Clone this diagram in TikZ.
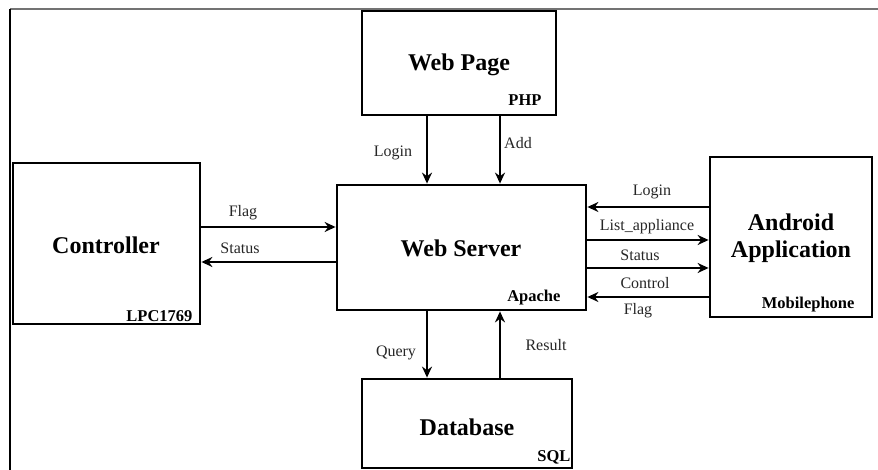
\documentclass[tikz,border=0pt]{standalone}
\usepackage{fontspec}
\setmainfont{Liberation Serif}
\usetikzlibrary{arrows.meta}
\begin{document}
\begin{tikzpicture}[x=1pt,y=-1pt,
  box/.style={draw=black,line width=2.8pt,inner sep=0pt,fill=white},
  title/.style={font=\fontsize{24}{27}\selectfont\bfseries,align=center},
  tag/.style={font=\fontsize{16.5}{19}\selectfont\bfseries,anchor=east},
  lbl/.style={font=\fontsize{16}{19}\selectfont,text=black!85},
  arr/.style={line width=2.5pt,-{Stealth[length=11pt,width=10pt]}}]
\useasboundingbox (0,0) rectangle (878,470);
% page frame
\draw[line width=2pt,black!55] (10,9) -- (878,9);
\draw[line width=1.6pt] (10,9) -- (10,470);

% blocks
\node[box,minimum width=194,minimum height=104] (wp) at (459,63) {};
\node[title] (wpt) at (459,65) {Web Page};
\node[tag] (wpp) at (545,100) {PHP};

\node[box,minimum width=249,minimum height=125] (ws) at (461.5,247.5) {};
\node[title] (wst) at (461,248) {Web Server};
\node[tag] (wsa) at (564,298) {Apache};

\node[box,minimum width=187,minimum height=161] (ctl) at (106.5,243.5) {};
\node[title] (ctlt) at (106,245) {Controller};
\node[tag] (ctla) at (196,316) {LPC1769};

\node[box,minimum width=162,minimum height=160] (and) at (791,237) {};
\node[title] (andt) at (791,238) {Android\\Application};
\node[tag] (anda) at (858,305) {Mobilephone};

\node[box,minimum width=210,minimum height=89] (db) at (467,423.5) {};
\node[title] (dbt) at (467,427) {Database};
\node[tag] (dbs) at (574,457) {SQL};

% connector columns and rows
\coordinate (cL) at (427,0);
\coordinate (cR) at (500,0);
\coordinate (rFlag) at (0,227);
\coordinate (rStat) at (0,262);
\coordinate (rLogin) at (0,207);
\coordinate (rList) at (0,240);
\coordinate (rAStat) at (0,268);
\coordinate (rCtrl) at (0,297);

% web page -> web server
\draw[arr] (wp.south -| cL) -- (ws.north -| cL);
\draw[arr] (wp.south -| cR) -- (ws.north -| cR);
\node[lbl] (l1) at (393,153) {Login};
\node[lbl] (l2) at (518,143) {Add};

% controller <-> web server
\draw[arr] (ctl.east |- rFlag) -- (ws.west |- rFlag);
\draw[arr] (ws.west |- rStat) -- (ctl.east |- rStat);
\node[lbl] (l3) at (243,213) {Flag};
\node[lbl] (l4) at (240,248) {Status};

% web server <-> database
\draw[arr] (ws.south -| cL) -- (db.north -| cL);
\draw[arr] (db.north -| cR) -- (ws.south -| cR);
\node[lbl] (l5) at (396,353) {Query};
\node[lbl] (l6) at (546,345) {Result};

% web server <-> android application
\draw[arr] (and.west |- rLogin) -- (ws.east |- rLogin);
\draw[arr] (ws.east |- rList) -- (and.west |- rList);
\draw[arr] (ws.east |- rAStat) -- (and.west |- rAStat);
\draw[arr] (and.west |- rCtrl) -- (ws.east |- rCtrl);
\node[lbl] (l7) at (652,192) {Login};
\node[lbl] (l8) at (647,227) {List\_appliance};
\node[lbl] (l9) at (640,255) {Status};
\node[lbl] (l10) at (645,283) {Control};
\node[lbl] (l11) at (638,311) {Flag};
\end{tikzpicture}
\end{document}
